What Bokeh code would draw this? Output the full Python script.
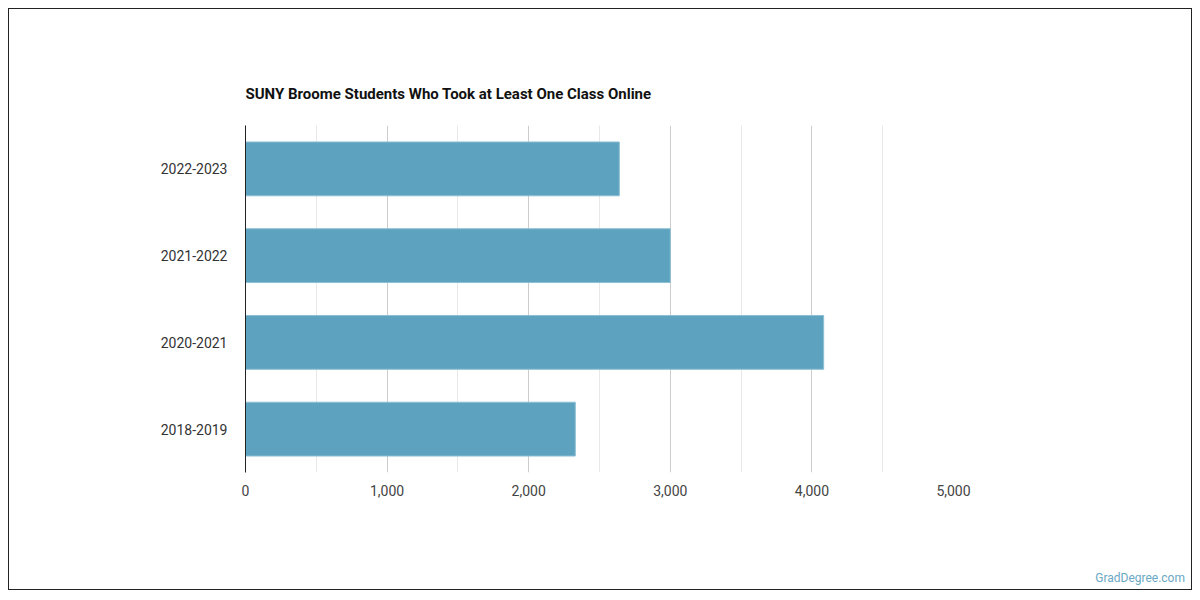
from bokeh.plotting import figure
from bokeh.models import FixedTicker, Range1d, NumeralTickFormatter, Div
from bokeh.layouts import column
from bokeh.embed import file_html
from bokeh.resources import INLINE

categories = ["2018-2019", "2020-2021", "2021-2022", "2022-2023"]
values = [2329, 4083, 3000, 2640]
x_ticks = [0, 1000, 2000, 3000, 4000, 5000]
x_minor = [500, 1500, 2500, 3500, 4500]
title_text = "SUNY Broome Students Who Took at Least One Class Online"
watermark = "GradDegree.com"

p = figure(width=1182, height=558, y_range=categories, x_range=Range1d(0, 5000),
           output_backend="svg", toolbar_location=None,
           min_border_left=236, min_border_right=238, min_border_top=116, min_border_bottom=95)

p.hbar(y=categories, right=values, left=0, height=0.62, fill_color="#5DA2BF",
       line_color="#8cbfd3", line_width=1)

p.title.text = title_text
p.title.text_font = "Roboto"
p.title.text_font_size = "15px"
p.title.text_font_style = "bold"
p.title.text_color = "#111111"
p.title.align = "left"
p.title.standoff = 45

p.outline_line_color = None
p.ygrid.grid_line_color = None
p.xaxis.ticker = FixedTicker(ticks=x_ticks, minor_ticks=x_minor)
p.xaxis.formatter = NumeralTickFormatter(format="0,0")
p.xgrid.grid_line_color = "#cccccc"
p.xgrid.minor_grid_line_color = "#e8e8e8"
p.xaxis.axis_line_color = None
p.xaxis.major_tick_line_color = None
p.xaxis.minor_tick_line_color = None
p.xaxis.major_label_text_font = "Roboto"
p.xaxis.major_label_text_font_size = "14px"
p.xaxis.major_label_text_color = "#444444"
p.xaxis.major_label_standoff = 6

p.yaxis.axis_line_color = "#222222"
p.yaxis.major_tick_line_color = None
p.yaxis.minor_tick_line_color = None
p.yaxis.major_label_text_font = "Roboto"
p.yaxis.major_label_text_font_size = "14px"
p.yaxis.major_label_text_color = "#333333"
p.yaxis.major_label_standoff = 12
p.y_range.range_padding = 0

div = Div(text='<div style="width:1176px;text-align:right;font-family:Roboto;'
               'font-size:12px;color:#6aa8c4;line-height:22px;">' + watermark + '</div>',
          width=1182, height=22, margin=0)

layout = column(p, div, spacing=0, margin=0,
                styles={"border": "1px solid #222", "margin": "8px"})

open("out.html", "w").write(file_html(layout, INLINE))
